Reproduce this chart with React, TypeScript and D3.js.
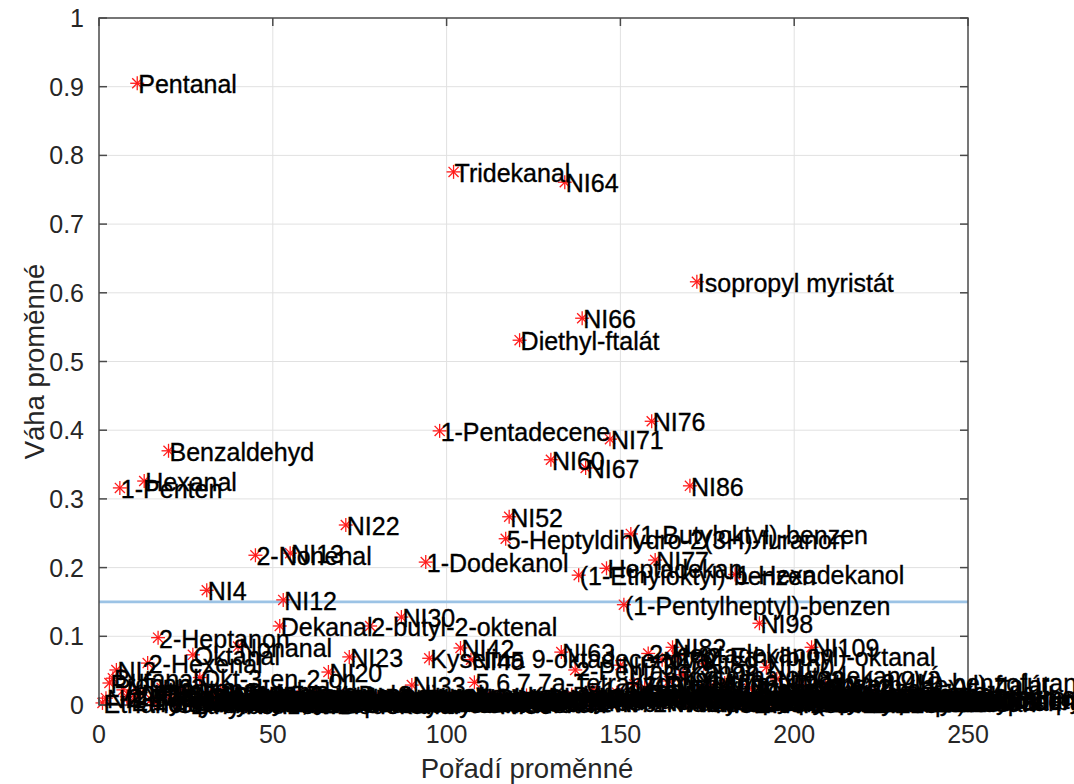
import React from 'react';
import * as d3 from 'd3';

// Variable names in their ordering (index = position + 1)
const varNames: string[] = [
  'Ethanol', 'NI1', 'Propanal', 'Butanal', 'NI2', '1-Penten', 'Aceton', '2-Butanon', 'Ethyl-acetát', '2-Methylbutanal',
  'Pentanal', 'NI3', 'Hexanal', '2-Hexenal', '1-Pentanol', 'Toluen', '2-Heptanon', 'Heptanal', '2-Pentylfuran', 'Benzaldehyd',
  '1-Hexanol', 'Styren', '2-Heptenal', '1-Okten-3-ol', '6-Methyl-5-hepten-2-on', 'Ethylbenzen', 'Oktanal', 'p-Xylen', 'Okt-3-en-2-on', 'Limonen',
  'NI4', '2-Ethylhexan-1-ol', 'Benzylalkohol', 'NI5', '2-Oktenal', 'Acetofenon', 'NI6', '1-Oktanol', 'NI7', 'Nonanal',
  'Linalool', 'NI8', '2-Fenylethanol', 'NI9', '2-Nonenal', 'Kafr', 'NI10', 'Menthol', '1-Nonanol', 'NI11',
  'Naftalen', 'Dekanal', 'NI12', '2,4-Nonadienal', 'NI13', 'NI14', '2-Dekenal', 'NI15', 'Undekanal', 'NI16',
  'NI17', '2,4-Dekadienal', 'NI18', 'NI19', '1-Dekanol', 'NI20', 'Tridekan', 'NI21', 'Dodekanal', '2-Undekenal',
  'NI22', 'NI23', 'NI24', 'Tetradekan', 'NI25', 'β-Karyofylen', 'NI26', '2-butyl-2-oktenal', 'NI27', 'Geranylaceton',
  'NI28', 'Butylhydroxytoluen', 'Pentadekan', 'NI29', '1-Undekanol', '2-Tridekanon', 'NI30', 'NI31', 'NI32', 'NI33',
  'NI34', 'Hexadekan', 'NI35', '1-Dodekanol', 'Kyselina 9-oktadecenová', 'NI36', 'NI37', '1-Pentadecene', 'NI38', 'NI39',
  'NI40', 'Tridekanal', 'NI41', 'NI42', 'NI43', 'NI44', 'NI45', '5,6,7,7a-Tetrahydro-4,4,7a-trimethyl-2(4H)-benzofuranon', 'NI46', 'NI47',
  'Oktadekan', 'NI48', 'NI49', 'Diisobutyl-ftalát', 'NI50', 'NI51', '5-Heptyldihydro-2(3H)-furanon', 'NI52', 'NI53', 'NI54',
  'Diethyl-ftalát', 'NI55', 'Kyselina hexadekanová', 'NI56', 'NI57', 'Methyl-hexadekanoát', 'NI58', 'Oktadekanal', 'NI59', 'NI60',
  'NI61', 'NI62', 'NI63', 'NI64', 'NI65', 'Dibutyl-ftalát', '2-Pentadekanon', '(1-Ethyloktyl)-benzen', 'NI66', 'NI67',
  'NI68', '(1-Propylheptyl)-benzen', 'NI69', '(1-Methyldecyl)-benzen', 'NI70', 'Heptadekan', 'NI71', 'NI72', '(1-Ethylnonyl)-benzen', 'NI73',
  '(1-Pentylheptyl)-benzen', 'NI74', '(1-Butyloktyl)-benzen', '(1-Propylnonyl)-benzen', 'NI75', 'Hexadekanal', '(1-Methylundecyl)-benzen', '2-Heptadekanon', 'NI76', 'NI77',
  'NI78', 'NI79', 'NI80', 'NI81', 'NI82', '2-(2-Ethylbutyl)-oktanal', 'NI83', 'Kyselina oktadekanová', 'NI84', 'NI86',
  'NI87', 'Isopropyl myristát', 'NI88', 'NI89', 'Kyselina tetradekanová', 'NI90', 'NI91', 'Dibutyl-sebakát', 'NI92', 'NI93',
  'Isopropyl-palmitát', 'NI94', '1-Hexadekanol', 'NI95', 'Skvalen', 'NI96', 'Nonadekan', 'NI97', 'Eikosan', 'NI98',
  'NI99', 'NI100', 'Heneikosan', 'NI101', 'NI102', 'Bis(2-ethylhexyl)-adipát', 'NI103', 'NI104', 'Dokosan', 'NI105',
  'NI106', 'Bis(2-ethylhexyl)-ftalát', 'NI107', 'NI108', 'NI109', 'NI110', 'Trikosan', 'NI111', 'NI112', 'Kyselina 9-hexadecenová',
  'NI113', 'NI114', 'Tetrakosan', 'NI115', 'Cholesterol', 'NI116', 'NI117', 'Pentakosan', 'NI118', 'α-Tokoferol',
  'NI119', 'NI120', 'Hexakosan', 'NI121', 'Stigmasterol', 'NI122', 'Dibenzofuran', 'NI123', 'γ-Sitosterol', 'NI124',
  'Heptakosan', 'NI125', '2,6-Di-terc-butyl-p-benzochinon', 'NI126', 'Oktakosan', 'NI127', 'Tris(2-ethylhexyl)-trimelitát', 'NI128', 'Nonakosan', 'NI129',
  'Dibutyl-adipát', 'NI130', 'Triakontan', 'NI131', 'Benzofuran-2-karbaldehyd',
];

// Weight of each variable, same order as varNames
const weights: number[] = [
  0.003, 0.010, 0.032, 0.039, 0.051, 0.316, 0.022, 0.012, 0.006, 0.015,
  0.905, 0.018, 0.326, 0.061, 0.008, 0.004, 0.098, 0.025, 0.014, 0.370,
  0.007, 0.003, 0.020, 0.011, 0.016, 0.002, 0.073, 0.005, 0.040, 0.009,
  0.167, 0.013, 0.006, 0.004, 0.021, 0.008, 0.003, 0.012, 0.005, 0.085,
  0.010, 0.002, 0.007, 0.011, 0.218, 0.004, 0.006, 0.003, 0.009, 0.005,
  0.014, 0.115, 0.153, 0.006, 0.221, 0.003, 0.012, 0.008, 0.004, 0.010,
  0.002, 0.016, 0.006, 0.005, 0.003, 0.048, 0.009, 0.007, 0.002, 0.013,
  0.262, 0.070, 0.004, 0.008, 0.011, 0.003, 0.006, 0.115, 0.005, 0.009,
  0.004, 0.012, 0.006, 0.003, 0.007, 0.010, 0.128, 0.005, 0.008, 0.029,
  0.006, 0.004, 0.009, 0.208, 0.068, 0.005, 0.012, 0.399, 0.003, 0.007,
  0.010, 0.776, 0.004, 0.083, 0.006, 0.011, 0.066, 0.033, 0.004, 0.008,
  0.003, 0.009, 0.005, 0.012, 0.002, 0.007, 0.242, 0.274, 0.006, 0.010,
  0.531, 0.004, 0.014, 0.008, 0.003, 0.009, 0.005, 0.011, 0.006, 0.357,
  0.008, 0.004, 0.077, 0.761, 0.010, 0.015, 0.051, 0.189, 0.563, 0.345,
  0.006, 0.022, 0.009, 0.012, 0.004, 0.199, 0.387, 0.005, 0.018, 0.058,
  0.146, 0.011, 0.249, 0.030, 0.007, 0.013, 0.025, 0.075, 0.413, 0.211,
  0.006, 0.066, 0.004, 0.035, 0.084, 0.072, 0.010, 0.044, 0.005, 0.319,
  0.008, 0.616, 0.004, 0.060, 0.006, 0.028, 0.003, 0.009, 0.005, 0.032,
  0.007, 0.011, 0.190, 0.004, 0.008, 0.006, 0.024, 0.003, 0.009, 0.119,
  0.007, 0.055, 0.004, 0.009, 0.038, 0.006, 0.003, 0.010, 0.005, 0.013,
  0.008, 0.030, 0.004, 0.011, 0.084, 0.006, 0.009, 0.004, 0.026, 0.007,
  0.010, 0.003, 0.012, 0.006, 0.005, 0.011, 0.004, 0.008, 0.013, 0.006,
  0.009, 0.003, 0.015, 0.007, 0.010, 0.004, 0.012, 0.006, 0.008, 0.011,
  0.005, 0.013, 0.009, 0.004, 0.010, 0.007, 0.015, 0.006, 0.012, 0.004,
  0.008, 0.011, 0.006, 0.009, 0.013,
];

const xTicks: number[] = [0, 50, 100, 150, 200, 250];
const yTicks: number[] = [0, 0.1, 0.2, 0.3, 0.4, 0.5, 0.6, 0.7, 0.8, 0.9, 1];
const yTickLabels: string[] = ['0', '0.1', '0.2', '0.3', '0.4', '0.5', '0.6', '0.7', '0.8', '0.9', '1'];
const thresholdWeight = 0.15;

const xAxisTitle = 'Pořadí proměnné';
const yAxisTitle = 'Váha proměnné';

const FONT = '"Liberation Sans", Arial, Helvetica, sans-serif';

export default function App() {
  const width = 1074;
  const height = 784;
  const left = 99;
  const right = 968;
  const top = 18;
  const bottom = 705;

  const x = d3.scaleLinear().domain([0, 250]).range([left, right]);
  const y = d3.scaleLinear().domain([0, 1]).range([bottom, top]);

  const points = weights.map((w, i) => ({ idx: i + 1, w, name: varNames[i] }));

  const axisColor = '#4a4a4a';
  const tickLen = 8;
  const starR = 7;
  const diag = starR * 0.72;

  return (
    <svg
      width={width}
      height={height}
      style={{ position: 'absolute', left: 0, top: 0, background: '#fff' }}
      fontFamily={FONT}
    >
      <rect x={0} y={0} width={width} height={height} fill="#fff" />

      {/* grid */}
      <g stroke="#e1e1e1" strokeWidth={1}>
        {xTicks.slice(1, -1).map((t) => (
          <line key={'gx' + t} x1={x(t)} x2={x(t)} y1={top} y2={bottom} />
        ))}
        {yTicks.slice(1, -1).map((t) => (
          <line key={'gy' + t} x1={left} x2={right} y1={y(t)} y2={y(t)} />
        ))}
      </g>

      {/* threshold line */}
      <line
        x1={x(0)}
        x2={x(250)}
        y1={y(thresholdWeight)}
        y2={y(thresholdWeight)}
        stroke="#9cc3e5"
        strokeWidth={2.8}
      />

      {/* asterisk markers */}
      <g stroke="#ff1a1a" strokeWidth={1.3}>
        {points.map((p) => {
          const cx = x(p.idx);
          const cy = y(p.w);
          return (
            <g key={'m' + p.idx}>
              <line x1={cx - starR} x2={cx + starR} y1={cy} y2={cy} />
              <line x1={cx} x2={cx} y1={cy - starR} y2={cy + starR} />
              <line x1={cx - diag} x2={cx + diag} y1={cy - diag} y2={cy + diag} />
              <line x1={cx - diag} x2={cx + diag} y1={cy + diag} y2={cy - diag} />
            </g>
          );
        })}
      </g>

      {/* axes box and ticks */}
      <g stroke={axisColor} strokeWidth={1.5} fill="none">
        <rect x={left} y={top} width={right - left} height={bottom - top} />
        {xTicks.map((t) => (
          <g key={'tx' + t}>
            <line x1={x(t)} x2={x(t)} y1={bottom} y2={bottom - tickLen} />
            <line x1={x(t)} x2={x(t)} y1={top} y2={top + tickLen} />
          </g>
        ))}
        {yTicks.map((t) => (
          <g key={'ty' + t}>
            <line x1={left} x2={left + tickLen} y1={y(t)} y2={y(t)} />
            <line x1={right} x2={right - tickLen} y1={y(t)} y2={y(t)} />
          </g>
        ))}
      </g>

      {/* tick labels */}
      <g fill="#262626" fontSize={25}>
        {xTicks.map((t) => (
          <text key={'lx' + t} x={x(t)} y={bottom + 38} textAnchor="middle">
            {t}
          </text>
        ))}
        {yTicks.map((t, i) => (
          <text key={'ly' + t} x={left - 15} y={y(t) + 9} textAnchor="end">
            {yTickLabels[i]}
          </text>
        ))}
      </g>

      {/* axis titles */}
      <text x={527} y={778} textAnchor="middle" fontSize={27.5} fill="#262626">
        {xAxisTitle}
      </text>
      <text
        transform={`translate(44, ${(top + bottom) / 2}) rotate(-90)`}
        textAnchor="middle"
        fontSize={27.5}
        fill="#262626"
      >
        {yAxisTitle}
      </text>

      {/* variable labels */}
      <g fill="#000" stroke="#000" strokeWidth={0.35} fontSize={25}>
        {points.map((p) => (
          <text key={'t' + p.idx} x={x(p.idx) + 1} y={y(p.w) + 10}>
            {p.name}
          </text>
        ))}
      </g>
    </svg>
  );
}
